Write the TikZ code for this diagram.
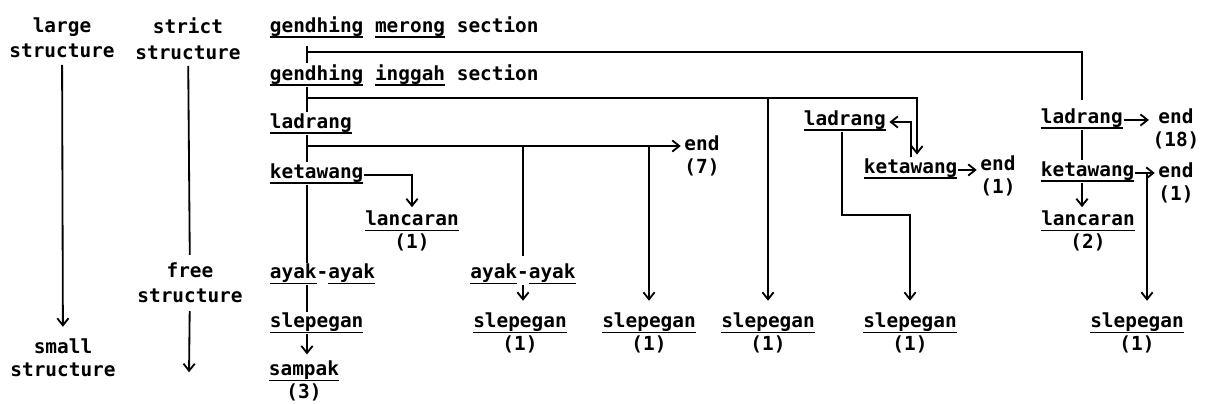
\documentclass[tikz,border=0pt]{standalone}
\usepackage{fontspec}
\setmonofont{DejaVu Sans Mono}
\usetikzlibrary{arrows.meta}
\newcommand{\souligne}[1]{\setbox0=\hbox{#1}\rlap{\raisebox{-4pt}{\rule{\wd0}{1.1pt}}}\box0\relax}
\begin{document}
\begin{tikzpicture}[x=0.025cm, y=-0.025cm, line width=1.3pt]
	\tikzset{noeud/.style={inner sep=0pt, align=center, font=\ttfamily\bfseries\fontsize{13.8}{16}\selectfont}, fleche/.style={>={Straight Barb[length=5pt, width=8pt]}, ->, shorten >=2pt}};

	\useasboundingbox (0,0) rectangle (1205,403);

	\coordinate (c0) at ( 307,   0);
	\coordinate (b1) at ( 307,  52);
	\coordinate (b2) at ( 307,  98);
	\coordinate (b3) at ( 307, 146);
	\coordinate (c4) at ( 842, 215);
	\coordinate (c5) at ( 917,  98);
	\coordinate (c6) at (1147,   0);
	\coordinate (c7) at (1082,   0);
	\coordinate (f1) at ( 189, 375);

	\node[noeud, anchor=north] (gr) at (  62,  17) {large\\[2pt]structure};
	\node[noeud, anchor=north] (st) at ( 188,  17) {strict\\[2pt]structure};
	\node[noeud, anchor=north] (li) at ( 190, 262) {free\\[2pt]structure};
	\node[noeud, anchor=north] (pe) at (  63, 338) {small\\structure};

	\node[noeud, anchor=base west] (gm) at ( 269,  32) {\souligne{gendhing} \souligne{merong} section};
	\node[noeud, anchor=base west] (gi) at ( 269,  80) {\souligne{gendhing} \souligne{inggah} section};
	\node[noeud, anchor=base west] (l1) at ( 269, 128) {\souligne{ladrang}};
	\node[noeud, anchor=base west] (k1) at ( 269, 178) {\souligne{ketawang}};
	\node[noeud, anchor=north]     (n1) at ( 412, 210) {\souligne{lancaran}\\(1)};
	\node[noeud, anchor=north west](a1) at ( 269, 263) {\souligne{ayak}-\souligne{ayak}};
	\node[noeud, anchor=north west](s1) at ( 269, 312) {\souligne{slepegan}};
	\node[noeud, anchor=north]     (m1) at ( 304, 360) {\souligne{sampak}\\(3)};
	\node[noeud, anchor=north]     (e1) at ( 702, 135) {end\\(7)};
	\node[noeud, anchor=north]     (a2) at ( 523, 263) {\souligne{ayak}-\souligne{ayak}};
	\node[noeud, anchor=north]     (s2) at ( 520, 312) {\souligne{slepegan}\\(1)};
	\node[noeud, anchor=north]     (s3) at ( 649, 312) {\souligne{slepegan}\\(1)};
	\node[noeud, anchor=north]     (s4) at ( 768, 312) {\souligne{slepegan}\\(1)};

	\node[noeud, anchor=base west] (l2) at ( 803, 125) {\souligne{ladrang}};
	\node[noeud, anchor=base west] (k2) at ( 863, 173) {\souligne{ketawang}};
	\node[noeud, anchor=north]     (e2) at ( 998, 155) {end\\(1)};
	\node[noeud, anchor=north]     (s5) at ( 910, 312) {\souligne{slepegan}\\(1)};

	\node[noeud, anchor=base west] (l3) at (1040, 123) {\souligne{ladrang}};
	\node[noeud, anchor=north]     (e3) at (1176, 108) {end\\(18)};
	\node[noeud, anchor=base west] (k3) at (1040, 176) {\souligne{ketawang}};
	\node[noeud, anchor=north]     (e4) at (1176, 162) {end\\(1)};
	\node[noeud, anchor=north]     (n2) at (1088, 210) {\souligne{lancaran}\\(2)};
	\node[noeud, anchor=north]     (s6) at (1137, 312) {\souligne{slepegan}\\(1)};

	\draw[fleche, shorten <=4pt, shorten >=8pt] (gr) -- (pe);
	\draw[shorten <=4pt, shorten >=5pt] (st) -- (li);
	\draw[fleche, shorten <=5pt] (li) -- (f1);

	\draw[shorten <=5pt] (gm.south -| c0) -- (gi.north -| c0);
	\draw (gi.south -| c0) -- (l1.north -| c0);
	\draw (l1.south -| c0) -- (k1.north -| c0);
	\draw (k1.south -| c0) -- (a1.north -| c0);
	\draw (a1.south -| c0) -- (s1.north -| c0);
	\draw[fleche, shorten >=4pt] (s1.south -| c0) -- (m1.north -| c0);

	\draw[shorten >=5pt] (b1) -| (l3.north -| c7);
	\draw[fleche] (b2) -- (c5) -- (c5 |- k2.north);
	\draw[fleche, shorten >=8pt] (b2 -| s4.north) -- (s4.north);
	\draw[fleche] (b3) -- (b3 -| e1.west);
	\draw[shorten >=5pt] (b3 -| a2.north) -- (a2.north);
	\draw[fleche, shorten >=8pt] (b3 -| s3.north) -- (s3.north);
	\draw[fleche] (k1.mid east) -| (n1.north);
	\draw[fleche, shorten >=8pt] (a2.south) -- (a2.south |- s2.north);

	\draw[fleche] (k2.north) |- (l2.mid east);
	\draw[fleche] (k2.mid east) -- (k2.mid east -| e2.west);
	\draw[fleche, shorten >=8pt] (l2.south -| c4) -- (c4) -| (s5.north);

	\draw[fleche] (l3.mid east) -- (l3.mid east -| e3.west);
	\draw (l3.south -| c7) -- (k3.north -| c7);
	\draw[fleche] (k3.mid east) -- (k3.mid east -| e4.west);
	\draw[fleche] (k3.south -| c7) -- (c7 |- n2.north);
	\draw[fleche, shorten >=8pt] (k3.mid east -| c6) -- (c6 |- s6.north);
\end{tikzpicture}
\end{document}
